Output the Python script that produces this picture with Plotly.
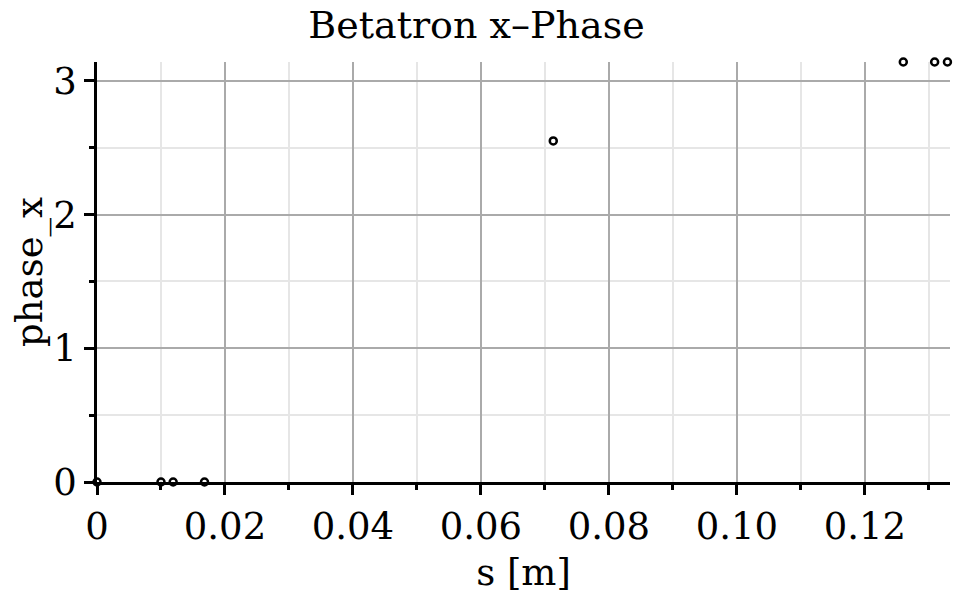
import plotly.graph_objects as go

s_values = [0.0, 0.0100, 0.0119, 0.0168, 0.0713, 0.1260, 0.1309, 0.1329]
phase_x_values = [0.0, 0.0, 0.0, 0.0, 2.551, 3.14159, 3.14159, 3.14159]

x_tick_vals = [0, 0.02, 0.04, 0.06, 0.08, 0.10, 0.12]
x_tick_text = ["0", "0.02", "0.04", "0.06", "0.08", "0.10", "0.12"]
y_tick_vals = [0, 1, 2, 3]
y_tick_text = ["0", "1", "2", "3"]

FONT = "DejaVu Serif"

fig = go.Figure()
fig.add_trace(go.Scatter(
    x=s_values, y=phase_x_values, mode="markers",
    marker=dict(symbol="circle-open", size=7, color="black", line=dict(width=2.5, color="black")),
    cliponaxis=False, showlegend=False,
))

axis_common = dict(
    showline=True, linecolor="black", linewidth=2.5,
    showgrid=True, gridcolor="#aaaaaa", gridwidth=2,
    ticks="outside", ticklen=10, tickwidth=2.5, tickcolor="black",
    zeroline=False, mirror=False,
    tickfont=dict(family=FONT, size=37, color="black"),
)

fig.update_xaxes(
    **axis_common,
    automargin=False,
    range=[0, 0.1333],
    tickmode="array", tickvals=x_tick_vals, ticktext=x_tick_text,
    minor=dict(dtick=0.01, tick0=0, showgrid=True, gridcolor="#e6e6e6", gridwidth=2,
               ticks="outside", ticklen=5, tickwidth=2.5, tickcolor="black"),
    title=dict(text="s [m]", font=dict(family=FONT, size=37, color="black")),
)
fig.update_yaxes(
    **axis_common,
    automargin=True,
    range=[0, 3.1416],
    tickmode="array", tickvals=y_tick_vals, ticktext=y_tick_text,
    minor=dict(dtick=0.5, tick0=0, showgrid=True, gridcolor="#e6e6e6", gridwidth=2,
               ticks="outside", ticklen=5, tickwidth=2.5, tickcolor="black"),
    title=dict(text="phase_x", font=dict(family=FONT, size=37, color="black"), standoff=0),
)

fig.update_layout(
    width=953, height=594,
    margin=dict(l=97, r=3, t=62, b=112),
    paper_bgcolor="white", plot_bgcolor="white",
    title=dict(text="Betatron x–Phase", x=0.5, xanchor="center", y=0.958, yanchor="middle",
               font=dict(family=FONT, size=38, color="black")),
)

fig.write_html("out.html", config={"displayModeBar": False},
               post_script="document.body.style.margin='0';document.body.style.overflow='hidden';")
